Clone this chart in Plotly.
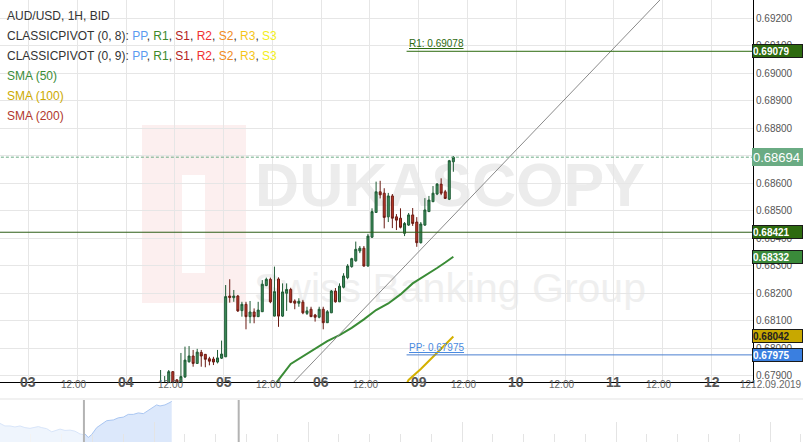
import plotly.graph_objects as go
import pandas as pd

# hourly candles 04.09 08:00 -> 09.09 08:00, weekend skipped
candle_time = pd.date_range("2019-09-04 08:00", "2019-09-09 08:00", freq="h")
candle_time = candle_time[candle_time.dayofweek < 5]

open_ = [0.67840, 0.67855, 0.67865, 0.67914, 0.67884, 0.67873, 0.67895, 0.67950, 0.67971, 0.67944,
         0.67984, 0.67977, 0.67961, 0.67960, 0.67949, 0.67963, 0.67968, 0.68189, 0.68183, 0.68189,
         0.68136, 0.68159, 0.68114, 0.68131, 0.68114, 0.68132, 0.68227, 0.68250, 0.68116, 0.68251,
         0.68116, 0.68199, 0.68213, 0.68171, 0.68163, 0.68167, 0.68126, 0.68141, 0.68120, 0.68112,
         0.68141, 0.68092, 0.68128, 0.68207, 0.68168, 0.68221, 0.68256, 0.68296, 0.68317, 0.68353,
         0.68363, 0.68298, 0.68403, 0.68493, 0.68568, 0.68563, 0.68477, 0.68553, 0.68477, 0.68472,
         0.68417, 0.68447, 0.68484, 0.68458, 0.68383, 0.68447, 0.68496, 0.68532, 0.68560, 0.68596,
         0.68568, 0.68541, 0.68677]
high = [0.67920, 0.67898, 0.67920, 0.67916, 0.67887, 0.67982, 0.68005, 0.68007, 0.67993, 0.67997,
        0.67993, 0.67978, 0.67968, 0.67968, 0.67993, 0.68027, 0.68229, 0.68250, 0.68211, 0.68193,
        0.68168, 0.68168, 0.68171, 0.68144, 0.68168, 0.68247, 0.68256, 0.68256, 0.68296, 0.68257,
        0.68235, 0.68235, 0.68219, 0.68177, 0.68181, 0.68175, 0.68150, 0.68150, 0.68124, 0.68150,
        0.68150, 0.68138, 0.68211, 0.68218, 0.68235, 0.68272, 0.68305, 0.68328, 0.68387, 0.68371,
        0.68371, 0.68415, 0.68508, 0.68605, 0.68608, 0.68581, 0.68564, 0.68560, 0.68487, 0.68508,
        0.68458, 0.68491, 0.68509, 0.68476, 0.68458, 0.68545, 0.68553, 0.68589, 0.68600, 0.68617,
        0.68575, 0.68684, 0.68698]
low = [0.67829, 0.67840, 0.67858, 0.67862, 0.67865, 0.67869, 0.67891, 0.67947, 0.67932, 0.67942,
       0.67932, 0.67930, 0.67937, 0.67938, 0.67944, 0.67960, 0.67967, 0.68165, 0.68168, 0.68131,
       0.68114, 0.68068, 0.68090, 0.68090, 0.68113, 0.68131, 0.68225, 0.68163, 0.68115, 0.68077,
       0.68113, 0.68135, 0.68163, 0.68141, 0.68150, 0.68123, 0.68120, 0.68113, 0.68096, 0.68108,
       0.68068, 0.68091, 0.68127, 0.68165, 0.68167, 0.68217, 0.68250, 0.68292, 0.68314, 0.68345,
       0.68296, 0.68296, 0.68400, 0.68492, 0.68544, 0.68435, 0.68458, 0.68436, 0.68429, 0.68435,
       0.68407, 0.68444, 0.68444, 0.68368, 0.68380, 0.68444, 0.68495, 0.68531, 0.68556, 0.68556,
       0.68542, 0.68538, 0.68641]
close = [0.67865, 0.67869, 0.67914, 0.67873, 0.67873, 0.67896, 0.67956, 0.67971, 0.67944, 0.67985,
         0.67971, 0.67959, 0.67952, 0.67949, 0.67964, 0.67978, 0.68187, 0.68184, 0.68189, 0.68135,
         0.68159, 0.68114, 0.68131, 0.68114, 0.68138, 0.68232, 0.68250, 0.68168, 0.68205, 0.68116,
         0.68204, 0.68213, 0.68166, 0.68163, 0.68170, 0.68128, 0.68135, 0.68114, 0.68112, 0.68141,
         0.68092, 0.68132, 0.68207, 0.68168, 0.68225, 0.68262, 0.68298, 0.68325, 0.68359, 0.68363,
         0.68298, 0.68407, 0.68496, 0.68568, 0.68557, 0.68475, 0.68553, 0.68472, 0.68465, 0.68439,
         0.68453, 0.68484, 0.68453, 0.68383, 0.68451, 0.68502, 0.68538, 0.68563, 0.68596, 0.68563,
         0.68544, 0.68681, 0.68694]

sma50_time = ["2019-09-05 12:00", "2019-09-05 13:00", "2019-09-05 16:00", "2019-09-05 19:00",
              "2019-09-05 22:00", "2019-09-06 01:00", "2019-09-06 04:00", "2019-09-06 07:00",
              "2019-09-06 10:00", "2019-09-06 13:00", "2019-09-06 16:00", "2019-09-06 19:00",
              "2019-09-06 22:00", "2019-09-09 01:00", "2019-09-09 04:00", "2019-09-09 06:00",
              "2019-09-09 08:00"]
sma50 = [0.67862, 0.67884, 0.67942, 0.67969, 0.67998, 0.68025, 0.68047, 0.68073, 0.68104,
         0.68138, 0.68162, 0.68195, 0.68235, 0.68262, 0.68291, 0.68311, 0.68332]
sma100_time = ["2019-09-06 20:00", "2019-09-06 21:00", "2019-09-09 00:00", "2019-09-09 03:00",
               "2019-09-09 06:00", "2019-09-09 08:00"]
sma100 = [0.67855, 0.67884, 0.67924, 0.67967, 0.68011, 0.68042]

trend_time = ["2019-09-05 14:00", "2019-09-11 16:00"]
trend_price = [0.67826, 0.69338]

r1_level = 0.69079
pp_level = 0.67975
level_prev = 0.68421
last_price = 0.68694
pivot_start = "2019-09-06 21:00"

day_ticks = ["2019-09-03", "2019-09-04", "2019-09-05", "2019-09-06",
             "2019-09-09", "2019-09-10", "2019-09-11", "2019-09-12"]
day_text = ["03", "04", "05", "06", "09", "10", "11", "12"]

# navigator (overview) series
nav_t = [0, 0.32, 0.65, 0.97, 1.3, 1.62, 1.95, 2.27, 2.49, 2.71, 3.03, 3.36, 3.68, 3.9, 4.22,
         4.55, 4.87, 5.19, 5.41, 5.52, 5.73, 5.95, 6.28, 6.6, 6.93, 7.36, 7.68, 8.01, 8.33, 8.66,
         8.98, 9.31, 9.63, 9.95, 10.17, 10.39, 10.71, 11.04, 11.15]
nav_v = [0.67885, 0.67765, 0.67765, 0.67715, 0.67765, 0.67685, 0.6765, 0.67685, 0.67735, 0.67685,
         0.67635, 0.67485, 0.67585, 0.67615, 0.6755, 0.67565, 0.67515, 0.67385, 0.6735, 0.67385,
         0.67215, 0.6735, 0.67685, 0.6785, 0.68015, 0.6805, 0.6815, 0.68185, 0.68315, 0.68315,
         0.68385, 0.6835, 0.68515, 0.68685, 0.68765, 0.68715, 0.68765, 0.68885, 0.68935]

W, H = 803, 442
FONT = "Liberation Sans, Arial, sans-serif"


def px(x):
    return x / W


def py(y):
    return 1 - y / H


fig = go.Figure()

fig.add_trace(go.Candlestick(
    x=candle_time, open=open_, high=high, low=low, close=close,
    xperiod=3600000, xperiodalignment="middle", whiskerwidth=0,
    increasing=dict(fillcolor="#3f8f5e", line=dict(color="#1d5a33", width=1)),
    decreasing=dict(fillcolor="#c0392b", line=dict(color="#6a1a12", width=1)),
    showlegend=False, hoverinfo="skip"))

fig.add_trace(go.Scatter(x=sma50_time, y=sma50, mode="lines", xperiod=3600000,
                         xperiodalignment="middle", line=dict(color="#3a8c36", width=2),
                         showlegend=False, hoverinfo="skip"))
fig.add_trace(go.Scatter(x=sma100_time, y=sma100, mode="lines", xperiod=3600000,
                         xperiodalignment="middle", line=dict(color="#d4b000", width=2),
                         showlegend=False, hoverinfo="skip"))
fig.add_trace(go.Scatter(x=trend_time, y=trend_price, mode="lines",
                         line=dict(color="#8a8a8a", width=1), showlegend=False, hoverinfo="skip"))

# horizontal levels
far_left, far_right = "2019-09-02 00:00", "2019-09-13 00:00"
fig.add_trace(go.Scatter(x=[far_left, far_right], y=[level_prev] * 2, mode="lines",
                         line=dict(color="#2d5e16", width=1), showlegend=False, hoverinfo="skip"))
fig.add_trace(go.Scatter(x=[far_left, far_right], y=[last_price] * 2, mode="lines",
                         line=dict(color="#6aab83", width=1, dash="3px,2px"),
                         showlegend=False, hoverinfo="skip"))
fig.add_trace(go.Scatter(x=[pivot_start, far_right], y=[r1_level] * 2, mode="lines",
                         line=dict(color="#2d6a0f", width=1), showlegend=False, hoverinfo="skip"))
fig.add_trace(go.Scatter(x=[pivot_start, far_right], y=[pp_level] * 2, mode="lines",
                         line=dict(color="#4a7fd0", width=1), showlegend=False, hoverinfo="skip"))

# navigator
fig.add_trace(go.Scatter(x=nav_t, y=nav_v, mode="lines", fill="tozeroy", fillcolor="#dce8fb",
                         line=dict(color="#a9c6f2", width=1), xaxis="x2", yaxis="y2",
                         showlegend=False, hoverinfo="skip"))

shapes = [
    # watermark logo
    dict(type="rect", xref="paper", yref="paper", x0=px(142), x1=px(246), y0=py(303), y1=py(125),
         fillcolor="#fcefef", line=dict(width=0), layer="below"),
    dict(type="rect", xref="paper", yref="paper", x0=px(182), x1=px(205), y0=py(273), y1=py(175),
         fillcolor="white", line=dict(width=0), layer="below"),
    dict(type="rect", xref="paper", yref="paper", x0=px(255), x1=px(645), y0=py(232), y1=py(125),
         line=dict(width=0), layer="below",
         label=dict(text="DUKASCOPY", textposition="middle center",
                    font=dict(family="Liberation Sans Narrow, Liberation Sans", size=61,
                              color="#ececec", weight="bold"))),
    dict(type="rect", xref="paper", yref="paper", x0=px(255), x1=px(645), y0=py(325), y1=py(242),
         line=dict(width=0), layer="below",
         label=dict(text="Swiss Banking Group", textposition="middle center",
                    font=dict(family="Liberation Sans Narrow, Liberation Sans", size=41,
                              color="#efefef"))),
    # separator above navigator
    dict(type="line", xref="paper", yref="paper", x0=0, x1=1, y0=py(399), y1=py(399),
         line=dict(color="#e3e3e3", width=1)),
    dict(type="rect", xref="x2", yref="y2 domain", x0=0, x1=5.45, y0=0, y1=1,
         fillcolor="rgba(255,255,255,0.55)", line=dict(width=0)),
    dict(type="line", xref="x2", yref="y2 domain", x0=5.45, x1=5.45, y0=0, y1=1,
         line=dict(color="#b3b3b3", width=2)),
    dict(type="line", xref="x2", yref="y2 domain", x0=15.5, x1=15.5, y0=0, y1=1,
         line=dict(color="#b3b3b3", width=2)),
]

ann = []
# legend text
legend_lines = [
    ("AUD/USD, 1H, BID", "#333333"),
    ("CLASSICPIVOT (0, 8): ", "#333333"),
    ("CLASSICPIVOT (0, 9): ", "#333333"),
    ("SMA (50)", "#3a8c36"),
    ("SMA (100)", "#ccaa00"),
    ("SMA (200)", "#b0392b"),
]
pivot_names = ["PP", "R1", "S1", "R2", "S2", "R3", "S3"]
pivot_colors = ["#5b9bf0", "#3b8a2a", "#b22222", "#f03030", "#f08a20", "#f5c518", "#f2ee20"]
pivot_txt = ", ".join(f"<span style='color:{c}'>{n}</span>" for n, c in zip(pivot_names, pivot_colors))
for k, (t, c) in enumerate(legend_lines):
    text = t + pivot_txt if t.startswith("CLASSIC") else t
    ann.append(dict(xref="paper", yref="paper", x=px(5), y=py(16 + 20 * k), xanchor="left",
                    yanchor="middle", text=text, showarrow=False,
                    font=dict(family=FONT, size=12, color=c)))

# x axis labels
for d, t in zip(day_ticks, day_text):
    ann.append(dict(xref="x", yref="paper", x=d, y=py(392), text=t, showarrow=False,
                    xanchor="center", font=dict(family=FONT, size=14, color="#555555", weight="bold")))
for d in day_ticks[:-1]:
    ann.append(dict(xref="x", yref="paper", x=d + " 12:00", y=py(392), xshift=-4, text="12:00",
                    xanchor="center", showarrow=False, font=dict(family=FONT, size=10, color="#666666")))
ann.append(dict(xref="paper", yref="paper", x=px(771), y=py(392), text="1212.09.2019",
                xanchor="center", showarrow=False, font=dict(family=FONT, size=10, color="#666666")))

# pivot labels
ann.append(dict(xref="x", yref="y", x=pivot_start, y=r1_level, xanchor="left", yanchor="bottom",
                text="<span style='text-decoration:underline'>R1: 0.69078</span>", showarrow=False,
                font=dict(family=FONT, size=10, color="#2d6a0f")))
ann.append(dict(xref="x", yref="y", x=pivot_start, y=pp_level, xanchor="left", yanchor="bottom",
                text="<span style='text-decoration:underline'>PP: 0.67975</span>", showarrow=False,
                font=dict(family=FONT, size=10, color="#4a8ae0")))

# price boxes on the right axis
boxes = [
    (r1_level, "0.69079", "#2d6a0f", "white", 10, "#1a1a1a"),
    (last_price, "0.68694", "#6aab83", "white", 13, "#6aab83"),
    (level_prev, "0.68421", "#2d6a0f", "white", 10, "#1a1a1a"),
    (sma50[-1], "0.68332", "#3a8a3a", "white", 10, "#1a1a1a"),
    (sma100[-1], "0.68042", "#c8a800", "#222222", 10, "#1a1a1a"),
    (pp_level, "0.67975", "#3a7fe0", "white", 10, "#1a1a1a"),
]
for val, txt, bg, fc, fs, bc in boxes:
    big = fs > 11
    ann.append(dict(xref="paper", yref="y", x=px(752), y=val, xanchor="left", yanchor="middle",
                    text=txt if big else f"<b>{txt}</b>", showarrow=False, bgcolor=bg,
                    bordercolor=bc, borderwidth=1, borderpad=0, width=49,
                    height=16 if big else 12, align="left",
                    font=dict(family=FONT, size=fs, color=fc)))

fig.update_layout(
    width=W, height=H,
    margin=dict(l=0, r=0, t=0, b=0),
    paper_bgcolor="white",
    plot_bgcolor="rgba(0,0,0,0)",
    font=dict(family=FONT),
    xaxis=dict(domain=[0, px(753)], type="date",
               range=["2019-09-02 17:00", "2019-09-12 10:12"],
               rangebreaks=[dict(bounds=["sat", "mon"])],
               rangeslider=dict(visible=False),
               dtick=43200000, tick0="2019-09-03", showticklabels=False, ticks="",
               showgrid=True, gridcolor="#e6e6e6", gridwidth=1,
               showline=True, linecolor="black", linewidth=1, zeroline=False, fixedrange=True),
    yaxis=dict(domain=[py(382), 1], range=[0.678764, 0.692655], side="right",
               dtick=0.001, tick0=0.679, tickformat=".5f", ticks="",
               tickfont=dict(family=FONT, size=10, color="#555555"),
               showgrid=True, gridcolor="#e6e6e6", gridwidth=1,
               showline=True, linecolor="black", linewidth=1, zeroline=False),
    xaxis2=dict(domain=[0, 1], anchor="y2", range=[0, W / 15.4], showgrid=False,
                zeroline=False, showline=False, showticklabels=False,
                ticks="inside", ticklen=20, tickcolor="#e4e4e4", dtick=10, tick0=0.06,
                minor=dict(ticks="inside", ticklen=8, tickcolor="#e4e4e4", dtick=2)),
    yaxis2=dict(domain=[0, py(400)], anchor="x2", range=[0.670, 0.690], visible=False),
    shapes=shapes,
    annotations=ann,
)

# page body has a default 8px margin; drop it so the chart fills the window
fig.write_html("out.html", config={"displayModeBar": False},
               post_script="document.body.style.margin='0';")
